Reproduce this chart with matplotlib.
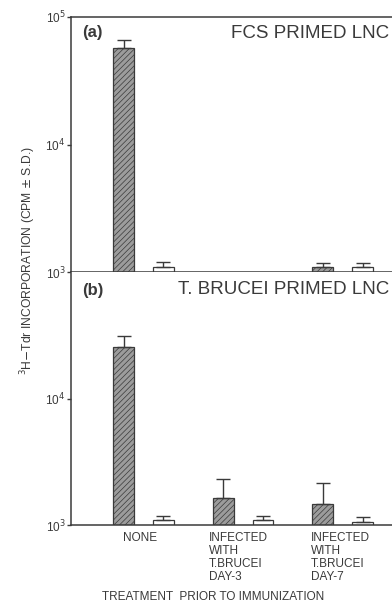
import numpy as np
import matplotlib
matplotlib.use('Agg')
import matplotlib.pyplot as plt

plt.rcParams['font.family'] = ['Liberation Sans', 'DejaVu Sans']
plt.rcParams['hatch.linewidth'] = 0.5

groups = ['NONE', 'INFECTED\nWITH\nT.BRUCEI\nDAY-3', 'INFECTED\nWITH\nT.BRUCEI\nDAY-7']

# panel (a) FCS primed LNC  (nan = nothing visible above 10^3)
fcs_hatched = np.array([57100, np.nan, 1090])
fcs_hatched_sd = np.array([8900, np.nan, 90])
fcs_open = np.array([1100, np.nan, 1095])
fcs_open_sd = np.array([105, np.nan, 90])

# panel (b) T. brucei primed LNC
tb_hatched = np.array([25600, 1635, 1460])
tb_hatched_sd = np.array([5400, 665, 670])
tb_open = np.array([1100, 1100, 1060])
tb_open_sd = np.array([80, 80, 90])

ink = '#3a3a3a'
W, H = 392, 604
fig = plt.figure(figsize=(W / 100, H / 100), dpi=100)

left = 71 / W
width = (492 - 71) / W
ax_a = fig.add_axes([left, 1 - 272 / H, width, (272 - 17) / H])
ax_b = fig.add_axes([left, 1 - 525 / H, width, (525 - 272) / H])

x = np.arange(len(groups))
off = 0.2
bw = 0.21
base = 1e3


def draw(ax, hv, hsd, ov, osd, ticks):
    ax.bar(x - off, hv - base, bottom=base, width=bw, facecolor='#9c9c9c',
           edgecolor=ink, hatch='//////', linewidth=0.9, zorder=2)
    ax.bar(x + off, ov - base, bottom=base, width=bw, facecolor='white',
           edgecolor=ink, linewidth=0.9, zorder=2)
    for xs, v, sd in [(x - off, hv, hsd), (x + off, ov, osd)]:
        ax.errorbar(xs, v, yerr=[np.zeros_like(sd), sd], fmt='none', ecolor=ink,
                    elinewidth=1.0, capsize=5, capthick=1.0, zorder=3)
    ax.set_yscale('log')
    ax.set_ylim(1e3, 1e5)
    ax.set_xlim(-0.728, 3.5)
    ax.set_yticks(ticks)
    ax.set_yticklabels([r'10$^{%d}$' % int(np.log10(t)) for t in ticks])
    ax.yaxis.set_minor_locator(matplotlib.ticker.NullLocator())
    ax.tick_params(axis='y', direction='out', length=3, width=1, color=ink,
                   labelsize=8.5, labelcolor=ink, pad=1)
    ax.set_xticks([])
    for s in ax.spines.values():
        s.set_color(ink)
        s.set_linewidth(1.1)
    ax.spines['right'].set_visible(False)


draw(ax_a, fcs_hatched, fcs_hatched_sd, fcs_open, fcs_open_sd, [1e3, 1e4, 1e5])
draw(ax_b, tb_hatched, tb_hatched_sd, tb_open, tb_open_sd, [1e3, 1e4])
ax_b.spines['top'].set_visible(False)

fig.text(82 / W, 1 - 33 / H, '(a)', fontsize=12, fontweight='bold', color=ink, va='center')
fig.text(389 / W, 1 - 33 / H, 'FCS PRIMED LNC', fontsize=13.5, color=ink, va='center', ha='right')
fig.text(82 / W, 1 - 290 / H, '(b)', fontsize=12, fontweight='bold', color=ink, va='center')
fig.text(389 / W, 1 - 290 / H, 'T. BRUCEI PRIMED LNC', fontsize=13.5, color=ink, va='center', ha='right')

# category labels under panel (b)
label_x = [140, 209, 311]
for i, lab in enumerate(groups):
    if i == 0:
        fig.text(label_x[i] / W, 1 - 532 / H, lab, fontsize=8.5, color=ink,
                 ha='center', va='top')
    else:
        fig.text(label_x[i] / W, 1 - 532 / H, lab, fontsize=8.5, color=ink,
                 ha='left', va='top', linespacing=1.12)

fig.text(213 / W, 1 - 597 / H, 'TREATMENT  PRIOR TO IMMUNIZATION', fontsize=8.5,
         color=ink, ha='center', va='center')
fig.text(28 / W, 1 - 261 / H, r'$^3$H$-$Tdr INCORPORATION (CPM $\pm$ S.D.)',
         fontsize=8.7, color=ink, rotation=90, ha='center', va='center')

fig.savefig('out.png', dpi=100, facecolor='white')
